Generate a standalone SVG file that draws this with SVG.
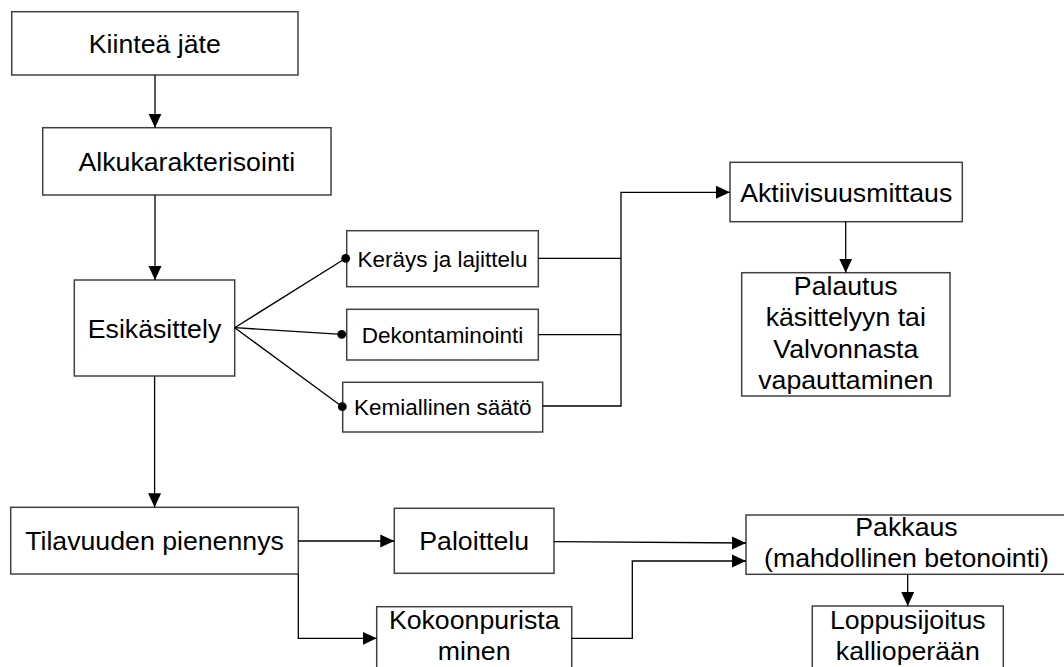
<svg xmlns="http://www.w3.org/2000/svg" width="1064" height="667" viewBox="0 0 1064 667">
<defs>
<style>
.box{fill:#fff;stroke:#404040;stroke-width:1.5}
.t{font-family:"Liberation Sans",Arial,sans-serif;font-size:26.7px;fill:#000;text-anchor:middle}
.s{font-size:22.5px}
.c{fill:none;stroke:#000;stroke-width:1.3}
</style>
<marker id="arr" markerUnits="userSpaceOnUse" markerWidth="15" markerHeight="15" viewBox="0 0 15 15" refX="14" refY="7" orient="auto"><path d="M0,0.5 L14,7 L0,13.5 z" fill="#000"/></marker>
<marker id="dot" markerUnits="userSpaceOnUse" markerWidth="12" markerHeight="12" viewBox="0 0 12 12" refX="6" refY="6"><circle cx="6" cy="6" r="4.4" fill="#000"/></marker>
</defs>
<rect width="1064" height="667" fill="#fff"/>
<g id="kiintea"><rect class="box" x="11.7" y="11.7" width="286.3" height="63.3"/><text class="t" x="154.8" y="53">Kiinteä jäte</text></g>
<g id="alkukarakterisointi"><rect class="box" x="42.7" y="127.7" width="288.3" height="67.3"/><text class="t" x="186.8" y="171">Alkukarakterisointi</text></g>
<g id="esikasittely"><rect class="box" x="74.3" y="280" width="160.4" height="96"/><text class="t" x="154.5" y="337.5">Esikäsittely</text></g>
<g id="kerays"><rect class="box" x="346.7" y="230.7" width="191.6" height="56"/><text class="t s" x="442.5" y="266.5">Keräys ja lajittelu</text></g>
<g id="dekontaminointi"><rect class="box" x="346.7" y="309.3" width="191.6" height="50.7"/><text class="t s" x="442.5" y="342.5">Dekontaminointi</text></g>
<g id="kemiallinen"><rect class="box" x="342.7" y="382.3" width="200" height="49.7"/><text class="t s" x="442.7" y="414.5">Kemiallinen säätö</text></g>
<g id="aktiivisuusmittaus"><rect class="box" x="730" y="162.3" width="232.3" height="59.4"/><text class="t" x="846.2" y="201.5">Aktiivisuusmittaus</text></g>
<g id="palautus"><rect class="box" x="741.7" y="272.7" width="208.3" height="123.3"/><text class="t" x="845.8"><tspan x="845.8" y="294.5">Palautus</tspan><tspan x="845.8" y="326">käsittelyyn tai</tspan><tspan x="845.8" y="357.5">Valvonnasta</tspan><tspan x="845.8" y="389">vapauttaminen</tspan></text></g>
<g id="tilavuuden"><rect class="box" x="10.7" y="507.3" width="287.6" height="66.7"/><text class="t" x="154.5" y="550">Tilavuuden pienennys</text></g>
<g id="paloittelu"><rect class="box" x="394.3" y="508.3" width="159.7" height="65"/><text class="t" x="474.2" y="550">Paloittelu</text></g>
<g id="kokoonpuristaminen"><rect class="box" x="376.7" y="606.7" width="195" height="70"/><text class="t" x="474.2"><tspan x="474.2" y="629">Kokoonpurista</tspan><tspan x="474.2" y="660">minen</tspan></text></g>
<g id="pakkaus"><rect class="box" x="746" y="515" width="321" height="59.3"/><text class="t" x="906.5"><tspan x="906.5" y="536">Pakkaus</tspan><tspan x="906.5" y="567">(mahdollinen betonointi)</tspan></text></g>
<g id="loppusijoitus"><rect class="box" x="812.3" y="606" width="191" height="70"/><text class="t" x="907.8"><tspan x="907.8" y="629">Loppusijoitus</tspan><tspan x="907.8" y="660">kallioperään</tspan></text></g>
<g id="connectors">
<path class="c" d="M155,75 V127.7" marker-end="url(#arr)"/>
<path class="c" d="M155,195 V280" marker-end="url(#arr)"/>
<path class="c" d="M234.7,327.7 L345.7,258.3" marker-end="url(#dot)"/>
<path class="c" d="M234.7,327.7 L341.7,334.3" marker-end="url(#dot)"/>
<path class="c" d="M234.7,327.7 L342.3,406.7" marker-end="url(#dot)"/>
<path class="c" d="M538.3,258.3 H621"/>
<path class="c" d="M538.3,334.7 H621"/>
<path class="c" d="M542.7,406 H621 V192.3 H730" marker-end="url(#arr)"/>
<path class="c" d="M845.7,221.7 V272.7" marker-end="url(#arr)"/>
<path class="c" d="M154.6,376 V507.3" marker-end="url(#arr)"/>
<path class="c" d="M298.3,541 H394.3" marker-end="url(#arr)"/>
<path class="c" d="M298.3,574 V638.3 H376.7" marker-end="url(#arr)"/>
<path class="c" d="M554,541.7 L746,543" marker-end="url(#arr)"/>
<path class="c" d="M571.7,638.3 H632.3 V561 H746" marker-end="url(#arr)"/>
<path class="c" d="M907.7,574.3 V606" marker-end="url(#arr)"/>
</g>
</svg>
